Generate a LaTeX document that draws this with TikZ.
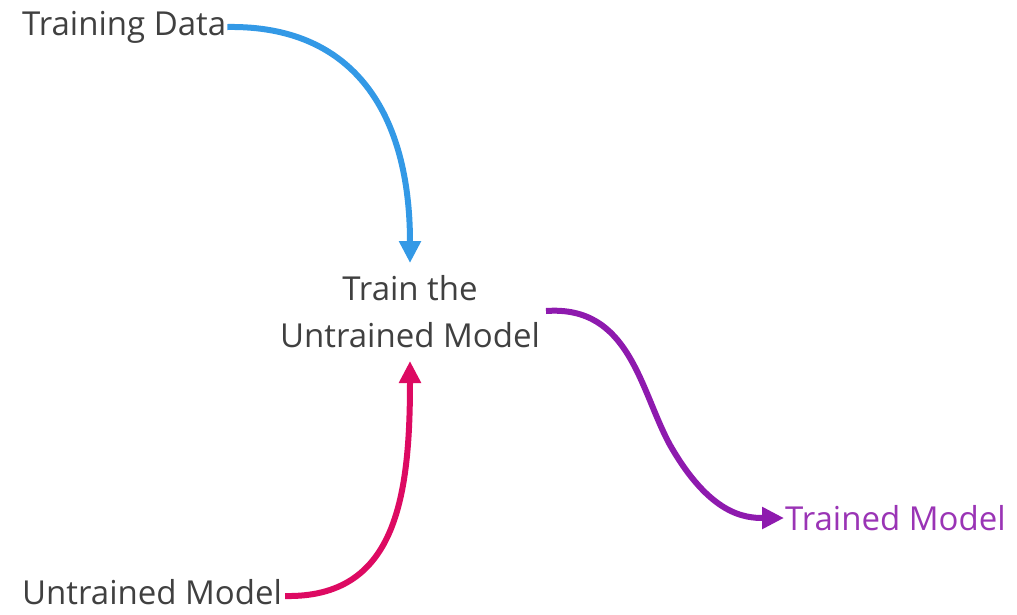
\documentclass[tikz,border=0pt]{standalone}
\usepackage{fontspec}
\setmainfont{Open Sans}
\usetikzlibrary{arrows.meta}
\definecolor{txt}{HTML}{404040}
\definecolor{cblue}{HTML}{3399E6}
\definecolor{cmag}{HTML}{DD0A62}
\definecolor{cpur}{HTML}{8E1AAE}
\definecolor{cpurtxt}{HTML}{9A34B5}
\begin{document}
\begin{tikzpicture}[x=1pt,y=-1pt,
  lbl/.style={font=\fontsize{33}{47}\selectfont, text=txt, inner sep=1pt},
  conn/.style={line width=6pt, -{Triangle[length=22pt,width=21pt]}}]
\useasboundingbox (0,0) rectangle (1017,614);
\node[lbl, anchor=west] (data) at (21,27) {Training Data};
\node[lbl, align=center] (train) at (410,312) {Train the\\Untrained Model};
\node[lbl, anchor=west] (untr) at (21,592) {Untrained Model};
\node[lbl, anchor=west, text=cpurtxt] (trained) at (784,518) {Trained Model};
\coordinate (tA) at (410,263);
\coordinate (tB) at (410,361);
\coordinate (pS) at (546,311);
\draw[conn, cblue] (data.east) .. controls (355,25) and (410,115) .. (tA);
\draw[conn, cmag] (untr.east) ++(2,4) .. controls (395,598) and (410,500) .. (tB);
\draw[conn, cpur] (pS) .. controls (630,305) and (640,390) .. (670,445) .. controls (710,515) and (745,518) .. (trained.west);
\end{tikzpicture}
\end{document}
